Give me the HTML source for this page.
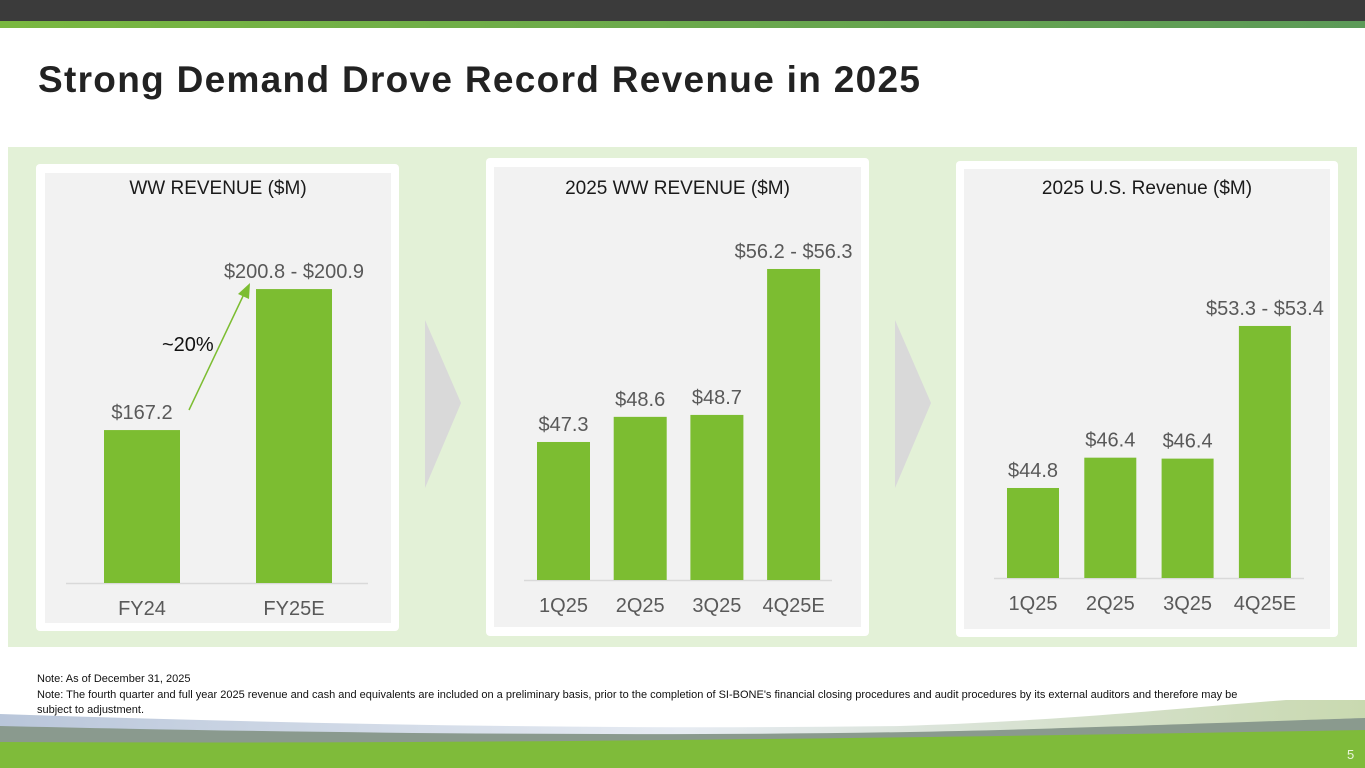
<!DOCTYPE html>
<html><head><meta charset="utf-8">
<style>
*{margin:0;padding:0;box-sizing:border-box}
body{width:1365px;height:768px;overflow:hidden;background:#fff;font-family:"Liberation Sans",Arial,sans-serif;position:relative}
.abs{position:absolute}
</style></head>
<body>
<div class="abs" style="left:0;top:0;width:1365px;height:21px;background:#3b3b3b"></div>
<div class="abs" style="left:0;top:21px;width:1365px;height:7px;background:linear-gradient(90deg,#7ab840,#5c9a58)"></div>
<div class="abs" style="left:38px;top:59px;font-size:37px;font-weight:bold;color:#222;letter-spacing:1.3px">Strong Demand Drove Record Revenue in 2025</div>
<div class="abs" style="left:8px;top:147px;width:1349px;height:500px;background:#e3f1d7"></div>

<svg class="abs" style="left:0;top:0" width="1365" height="768">
<g id="cards"></g>
</svg>

<div class="abs" style="left:37px;top:673px;font-size:11px;color:#111">Note: As of December 31, 2025</div>
<div class="abs" style="left:37px;top:688px;width:1232px;font-size:11px;line-height:15px;color:#111">Note: The fourth quarter and full year 2025 revenue and cash and equivalents are included on a preliminary basis, prior to the completion of SI-BONE's financial closing procedures and audit procedures by its external auditors and therefore may be subject to adjustment.</div>

<svg class="abs" style="left:0;top:700px" width="1365" height="68">
<defs>
<linearGradient id="gb" x1="0" x2="1"><stop offset="0" stop-color="#b9c6da"/><stop offset="0.5" stop-color="#e6ebf2"/><stop offset="1" stop-color="#c9d9b0"/></linearGradient>
</defs>
<path d="M0,14 C300,24 600,30 900,26 C1100,20 1250,0 1365,-5 L1365,68 L0,68Z" fill="url(#gb)"/>
<path d="M0,26 C300,33 700,38 1000,30 C1200,24 1300,20 1365,18 L1365,68 L0,68Z" fill="#8a9a8e"/>
<path d="M0,42 C400,44 800,40 1365,30 L1365,68 L0,68Z" fill="#7fbb3a"/>
<text x="1347" y="59" font-size="13" fill="#eaf5dd">5</text>
</svg>

<script>
const cats1=["FY24","FY25E"];
const vals1=[167.2,200.85];
const labels1=["$167.2","$200.8 - $200.9"];
const cats2=["1Q25","2Q25","3Q25","4Q25E"];
const vals2=[47.3,48.6,48.7,56.25];
const labels2=["$47.3","$48.6","$48.7","$56.2 - $56.3"];
const cats3=["1Q25","2Q25","3Q25","4Q25E"];
const vals3=[44.8,46.4,46.35,53.35];
const labels3=["$44.8","$46.4","$46.4","$53.3 - $53.4"];

const NS="http://www.w3.org/2000/svg";
const root=document.getElementById('cards');
function mk(tag,attrs,parent){const e=document.createElementNS(NS,tag);for(const k in attrs)e.setAttribute(k,attrs[k]);(parent||root).appendChild(e);return e;}

const charts=[
 {name:"ww-revenue",title:"WW REVENUE ($M)",card:[36,164,363,467],inner:[45,173,346,450],cats:cats1,vals:vals1,labels:labels1,base:583,axis:[66,368],x0:104,step:152,bw:76,yMin:130.7,ppu:4.19},
 {name:"ww-revenue-2025",title:"2025 WW REVENUE ($M)",card:[486,158,383,478],inner:[494,167,367,460],cats:cats2,vals:vals2,labels:labels2,base:580,axis:[524,832],x0:537,step:76.7,bw:53,yMin:40.16,ppu:19.33},
 {name:"us-revenue-2025",title:"2025 U.S. Revenue ($M)",card:[956,161,382,476],inner:[964,169,366,460],cats:cats3,vals:vals3,labels:labels3,base:578,axis:[994,1304],x0:1007,step:77.3,bw:52,yMin:40.05,ppu:18.95}
];
charts.forEach(c=>{
 const card=mk('rect',{x:c.card[0],y:c.card[1],width:c.card[2],height:c.card[3],rx:4,fill:'#fff'});
 
 
 const inn=mk('rect',{x:c.inner[0],y:c.inner[1],width:c.inner[2],height:c.inner[3],fill:'#f2f2f2'});
 
 
 const t=mk('text',{x:c.inner[0]+c.inner[2]/2,y:194,'text-anchor':'middle','font-size':19,fill:'#1a1a1a'});
 t.textContent=c.title;
 
 
 const ax=mk('line',{x1:c.axis[0],x2:c.axis[1],y1:c.base+0.5,y2:c.base+0.5,stroke:'#d9d9d9','stroke-width':1.5});
 
 
 const y=v=>c.base-(v-c.yMin)*c.ppu;
 c.vals.forEach((v,i)=>{
  const x=c.x0+i*c.step;
  const b=mk('rect',{x:x,y:y(v),width:c.bw,height:c.base-y(v),fill:'#7cbd31'});
  
  
  const l=mk('text',{x:x+c.bw/2,y:y(v)-11,'text-anchor':'middle','font-size':20,fill:'#595959'});
  l.textContent=c.labels[i];
  
  
  const cl=mk('text',{x:x+c.bw/2,y:c.base+32,'text-anchor':'middle','font-size':20,fill:'#595959'});
  cl.textContent=c.cats[i];
  
  
 });
});
[425,895].forEach((x,i)=>{
 const p=mk('polygon',{points:`${x},320 ${x+36},403 ${x},488`,fill:'#d9d9d9'});
 
 
});
const gl=mk('line',{x1:189,y1:410,x2:244,y2:294,stroke:'#7cbd31','stroke-width':1.5});


const gh=mk('polygon',{points:'250,283 249,299 238,294',fill:'#7cbd31'});


const gt=mk('text',{x:162,y:351,'font-size':20,fill:'#111'});
gt.textContent='~20%';


</script>
</body></html>
